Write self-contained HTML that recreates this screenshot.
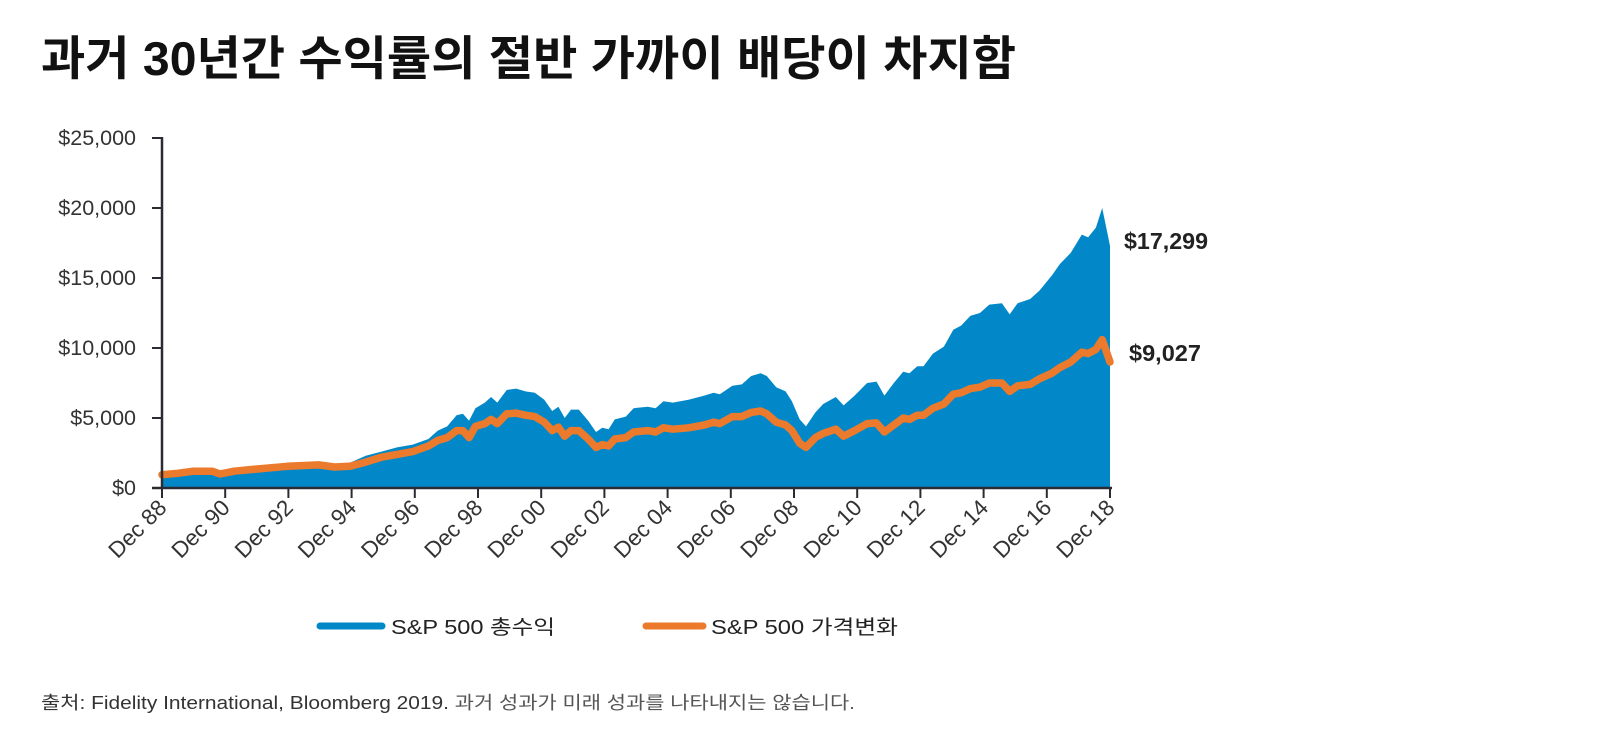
<!DOCTYPE html>
<html><head><meta charset="utf-8"><style>
html,body{margin:0;padding:0;background:#fff;}
svg{display:block;}
text{font-family:"Liberation Sans","Noto Sans CJK KR",sans-serif;}
</style></head><body>
<svg id="s" width="1600" height="756" xmlns="http://www.w3.org/2000/svg">
<text x="41" y="75" font-size="47" font-weight="bold" fill="#111" textLength="975" lengthAdjust="spacingAndGlyphs">과거 30년간 수익률의 절반 가까이 배당이 차지함</text>
<g id="plot"></g>
<g font-size="21.5" fill="#333" text-anchor="end">
<text x="136" y="145">$25,000</text>
<text x="136" y="215">$20,000</text>
<text x="136" y="285">$15,000</text>
<text x="136" y="355">$10,000</text>
<text x="136" y="425">$5,000</text>
<text x="136" y="495">$0</text>
</g>
<text x="1124" y="249" font-size="23" font-weight="bold" fill="#222" textLength="84" lengthAdjust="spacingAndGlyphs">$17,299</text>
<text x="1129" y="361" font-size="23" font-weight="bold" fill="#222" textLength="72" lengthAdjust="spacingAndGlyphs">$9,027</text>
<line x1="320" y1="626" x2="382" y2="626" stroke="#0288C8" stroke-width="7" stroke-linecap="round"/>
<text x="391" y="634" font-size="20" fill="#222" textLength="164" lengthAdjust="spacingAndGlyphs">S&amp;P 500 총수익</text>
<line x1="646" y1="626" x2="703" y2="626" stroke="#EC7A2C" stroke-width="7" stroke-linecap="round"/>
<text x="711" y="634" font-size="20" fill="#222" textLength="187" lengthAdjust="spacingAndGlyphs">S&amp;P 500 가격변화</text>
<text x="41" y="709" font-size="18" fill="#333" textLength="814" lengthAdjust="spacingAndGlyphs">출처:  Fidelity International, Bloomberg 2019. <tspan fill="#555">과거 성과가 미래 성과를 나타내지는 않습니다.</tspan></text>
</svg>
<script>
var Y=function(v){return 488-v*14;};
var tr=[[1989,0.85],[1989.5,1.0],[1990,1.15],[1990.6,1.2],[1990.85,0.95],[1991.3,1.2],[1992,1.35],[1993,1.5],[1994,1.65],[1994.5,1.7],[1995,1.8],[1995.5,2.3],[1996,2.6],[1996.5,2.9],[1997,3.1],[1997.5,3.5],[1997.8,4.1],[1998.1,4.4],[1998.4,5.2],[1998.6,5.3],[1998.8,4.8],[1999.0,5.7],[1999.3,6.1],[1999.5,6.5],[1999.7,6.1],[2000.0,7.0],[2000.3,7.1],[2000.6,6.9],[2000.9,6.8],[2001.2,6.3],[2001.45,5.5],[2001.65,5.8],[2001.85,5.0],[2002.05,5.6],[2002.3,5.6],[2002.6,4.8],[2002.85,4.0],[2003.05,4.3],[2003.25,4.2],[2003.45,4.9],[2003.8,5.1],[2004.05,5.7],[2004.5,5.8],[2004.75,5.7],[2005.0,6.2],[2005.3,6.1],[2005.8,6.3],[2006.3,6.6],[2006.6,6.8],[2006.8,6.7],[2007.2,7.3],[2007.5,7.4],[2007.8,8.0],[2008.1,8.2],[2008.3,8.0],[2008.6,7.2],[2008.9,6.9],[2009.1,6.2],[2009.35,4.9],[2009.55,4.4],[2009.85,5.4],[2010.1,6.0],[2010.5,6.5],[2010.75,5.9],[2011.1,6.6],[2011.5,7.5],[2011.8,7.6],[2012.05,6.6],[2012.35,7.5],[2012.65,8.3],[2012.85,8.2],[2013.1,8.7],[2013.3,8.7],[2013.6,9.6],[2013.95,10.1],[2014.25,11.3],[2014.5,11.6],[2014.8,12.3],[2015.1,12.5],[2015.4,13.1],[2015.8,13.2],[2016.05,12.4],[2016.3,13.2],[2016.7,13.5],[2017.0,14.1],[2017.4,15.2],[2017.65,16.0],[2018.0,16.8],[2018.35,18.1],[2018.55,17.9],[2018.8,18.6],[2019.0,20.0],[2019.25,17.3]];
var pr=[[1989,0.95],[1989.5,1.05],[1990,1.2],[1990.6,1.2],[1990.85,1.0],[1991.3,1.2],[1992,1.35],[1993,1.55],[1994,1.65],[1994.5,1.5],[1995,1.55],[1995.5,1.85],[1996,2.2],[1996.5,2.4],[1997,2.6],[1997.5,3.0],[1997.8,3.4],[1998.1,3.6],[1998.4,4.1],[1998.6,4.1],[1998.8,3.6],[1999.0,4.4],[1999.3,4.6],[1999.5,4.9],[1999.7,4.6],[2000.0,5.3],[2000.3,5.35],[2000.6,5.2],[2000.9,5.1],[2001.2,4.7],[2001.45,4.1],[2001.65,4.35],[2001.85,3.7],[2002.05,4.1],[2002.3,4.1],[2002.6,3.5],[2002.85,2.9],[2003.05,3.1],[2003.25,3.0],[2003.45,3.5],[2003.8,3.6],[2004.05,4.0],[2004.5,4.1],[2004.75,4.0],[2005.0,4.3],[2005.3,4.2],[2005.8,4.3],[2006.3,4.5],[2006.6,4.7],[2006.8,4.6],[2007.2,5.1],[2007.5,5.1],[2007.8,5.4],[2008.1,5.5],[2008.3,5.3],[2008.6,4.7],[2008.9,4.5],[2009.1,4.1],[2009.35,3.2],[2009.55,2.9],[2009.85,3.6],[2010.1,3.9],[2010.5,4.2],[2010.75,3.7],[2011.1,4.1],[2011.5,4.6],[2011.8,4.65],[2012.05,4.0],[2012.35,4.5],[2012.65,5.0],[2012.85,4.9],[2013.1,5.2],[2013.3,5.2],[2013.6,5.7],[2013.95,6.0],[2014.25,6.7],[2014.5,6.8],[2014.8,7.1],[2015.1,7.2],[2015.4,7.5],[2015.8,7.5],[2016.05,6.9],[2016.3,7.3],[2016.7,7.4],[2017.0,7.8],[2017.4,8.2],[2017.65,8.6],[2018.0,9.0],[2018.35,9.7],[2018.55,9.6],[2018.8,9.9],[2019.0,10.6],[2019.25,9.0]];
var sc=(2019.25-1989)/30;
function px(y){return 162+(y-1989)/sc*31.6;}
var area="M"+px(1989)+","+Y(0);
tr.forEach(function(p){area+=" L"+px(p[0]).toFixed(1)+","+Y(p[1]).toFixed(1);});
area+=" L"+px(2019.25)+","+Y(0)+"Z";
var line="";
pr.forEach(function(p,i){line+=(i?" L":"M")+px(p[0]).toFixed(1)+","+Y(p[1]).toFixed(1);});
var g='<path d="'+area+'" fill="#0288C8"/>';
g+='<path d="'+line+'" fill="none" stroke="#EC7A2C" stroke-width="7.5" stroke-linejoin="round" stroke-linecap="round"/>';
g+='<line x1="162" y1="137" x2="162" y2="489" stroke="#2b2b33" stroke-width="2.5"/>';
g+='<line x1="152" y1="488" x2="1112" y2="488" stroke="#2b2b33" stroke-width="2.5"/>';
for(var i=0;i<=5;i++){var yy=488-i*70;g+='<line x1="152" y1="'+yy+'" x2="162" y2="'+yy+'" stroke="#2b2b33" stroke-width="2"/>';}
var labs=["88","90","92","94","96","98","00","02","04","06","08","10","12","14","16","18"];
for(var k=0;k<16;k++){var xx=162+k*63.2;
g+='<line x1="'+xx+'" y1="488" x2="'+xx+'" y2="498" stroke="#2b2b33" stroke-width="2"/>';
var ax=xx+6, ay=509;
g+='<text x="'+ax+'" y="'+ay+'" font-size="22.5" fill="#333" text-anchor="end" transform="rotate(-45 '+ax+' '+ay+')">Dec '+labs[k]+'</text>';}
document.getElementById("plot").innerHTML=g;
</script>
</body></html>
